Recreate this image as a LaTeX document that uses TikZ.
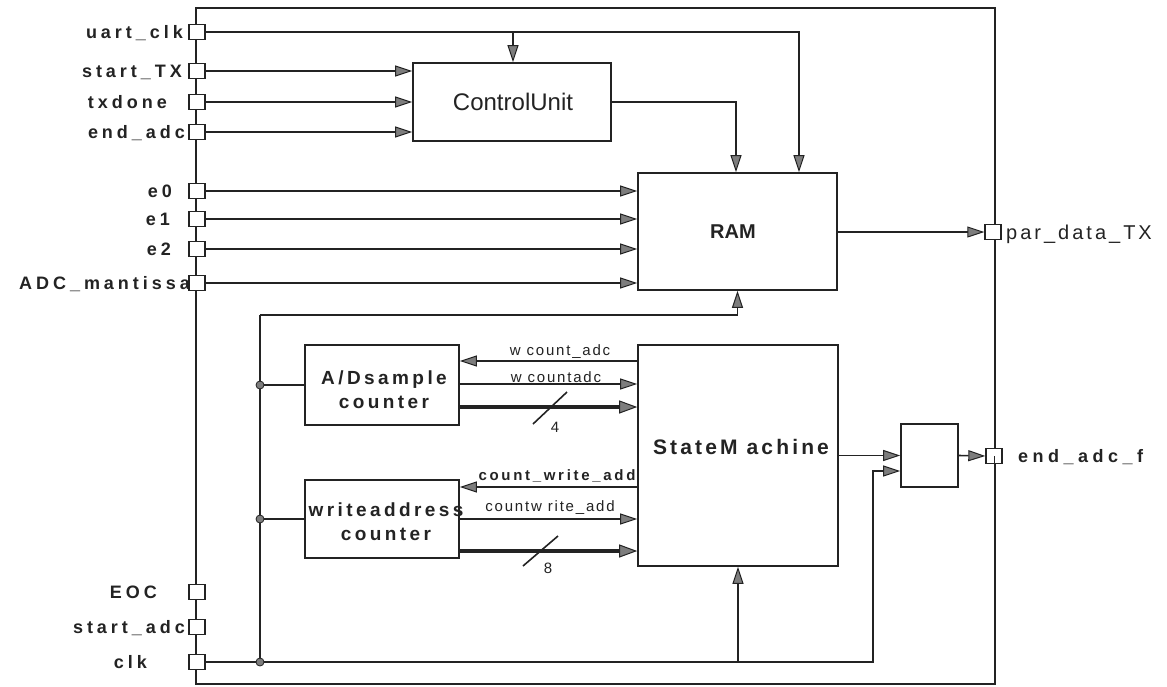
\documentclass[tikz,border=0pt]{standalone}
\usepackage{fontspec}
\setmainfont{Liberation Sans}
\newfontfamily\fA[LetterSpace=22]{Liberation Sans}
\newfontfamily\fB[LetterSpace=15]{Liberation Sans}
\newfontfamily\fC[LetterSpace=12]{Liberation Sans}
\newfontfamily\fD[LetterSpace=25]{Liberation Sans}
\newfontfamily\fE[LetterSpace=18]{Liberation Sans}
\usetikzlibrary{arrows.meta}
\newcommand\fsz[2]{\fontsize{#1}{#2}\selectfont}
\definecolor{lc}{RGB}{35,35,35}
\definecolor{af}{RGB}{125,125,125}
\begin{document}
\begin{tikzpicture}[x=1pt,y=-1pt,
  ln/.style={draw=lc, line width=1.6pt},
  arr/.style={ln, -{Triangle[length=17pt,width=11pt,fill=af,line width=1pt]}},
  bus/.style={draw=lc, line width=3.2pt, -{Triangle[length=18pt,width=13pt,fill=af,line width=1pt]}},
  port/.style={rectangle, draw=lc, fill=white, line width=1.4pt, minimum width=16pt, minimum height=15pt, inner sep=0pt},
  box/.style={rectangle, draw=lc, line width=1.6pt, inner sep=0pt},
  lbl/.style={font=\fA\bfseries\fsz{18}{20}, text=lc, inner sep=0pt, anchor=base east},
  dot/.style={circle, draw=lc, fill=af, line width=0.8pt, inner sep=0pt, minimum size=8pt},
  sig/.style={font=\fC\fsz{15}{17}, text=lc, inner sep=0pt},
  sigb/.style={font=\fE\bfseries\fsz{15}{17}, text=lc, inner sep=0pt},
  btxt/.style={font=\fE\bfseries\fsz{19}{24}, text=lc, align=center, inner sep=0pt}
]
\useasboundingbox (0,0) rectangle (1167,686);
\fill[white] (0,0) rectangle (1167,686);

% outer frame
\node[box, minimum width=799pt, minimum height=676pt] (frame) at (595.5,346) {};

% blocks
\node[box, minimum width=198pt, minimum height=78pt] (cu) at (512,102) {};
\node[font=\fsz{24}{26}, text=lc, inner sep=0pt] (cut) at (513,102) {ControlUnit};
\node[box, minimum width=199pt, minimum height=117pt] (ram) at (737.5,231.5) {};
\node[font=\bfseries\fsz{20}{22}, text=lc, inner sep=0pt] (ramt) at (733,232) {RAM};
\node[box, minimum width=154pt, minimum height=80pt] (ad) at (382,385) {};
\node[btxt] (adt) at (384,390) {A/Dsample\\counter};
\node[box, minimum width=154pt, minimum height=78pt] (wr) at (382,519) {};
\node[btxt] (wrt) at (386,522) {writeaddress\\counter};
\node[box, minimum width=200pt, minimum height=221pt] (sm) at (738,455.5) {};
\node[font=\fB\bfseries\fsz{21}{23}, text=lc, inner sep=0pt] (smt) at (741,447) {StateM achine};
\node[box, minimum width=57pt, minimum height=63pt] (sb) at (929.5,455.5) {};

% helper coordinates
\coordinate (cu1) at (799,32);
\coordinate (cu2) at (513,32);
\coordinate (cc) at (736,102);
\coordinate (jtop) at (260,315);
\coordinate (jad) at (260,385);
\coordinate (jwr) at (260,519);
\coordinate (jclk) at (260,662);
\coordinate (cr) at (873,471);
\coordinate (csm) at (738,662);
\coordinate (y1) at (0,361);
\coordinate (y2) at (0,384);
\coordinate (y3) at (0,407);
\coordinate (y4) at (0,487);
\coordinate (y5) at (0,519);
\coordinate (y6) at (0,551);

% ports left
\node[port] (puart) at (197,32) {};
\node[port] (pstx) at (197,71) {};
\node[port] (ptxd) at (197,102) {};
\node[port] (pend) at (197,132) {};
\node[port] (pe0) at (197,191) {};
\node[port] (pe1) at (197,219) {};
\node[port] (pe2) at (197,249) {};
\node[port] (padc) at (197,283) {};
\node[port] (peoc) at (197,592) {};
\node[port] (psadc) at (197,627) {};
\node[port] (pclk) at (197,662) {};
% ports right
\node[port] (ppar) at (993,232) {};
\node[port] (peaf) at (994,456) {};
\draw[ln, line width=1pt] (peaf.center) -- (peaf.south);

% port labels
\node[lbl] (luart) at (183,38.5) {uart\_clk};
\node[lbl] (lstx) at (182,77.5) {start\_TX};
\node[lbl] (ltxd) at (167,108.5) {txdone};
\node[lbl] (lend) at (185,138.5) {end\_adc};
\node[lbl] (le0) at (172,197.5) {e0};
\node[lbl] (le1) at (170,225.5) {e1};
\node[lbl] (le2) at (171,255.5) {e2};
\node[lbl] (ladc) at (190,289.5) {ADC\_mantissa};
\node[lbl] (leoc) at (157,598.5) {EOC};
\node[lbl] (lsadc) at (185,633.5) {start\_adc};
\node[lbl] (lclk) at (147,668.5) {clk};
\node[font=\fB\fsz{20}{22}, text=lc, inner sep=0pt, anchor=base west] (lpar) at (1006,239) {par\_data\_TX};
\node[font=\fD\bfseries\fsz{18}{20}, text=lc, inner sep=0pt, anchor=base west] (leaf) at (1018,462.5) {end\_adc\_f};

% top connections
\draw[arr] (puart.east) -| (cu1 |- ram.north);
\draw[arr] (cu2) -- (cu2 |- cu.north);
\draw[arr] (cu.east) -| (cc |- ram.north);
\draw[arr] (pstx.east) -- (pstx.east -| cu.west);
\draw[arr] (ptxd.east) -- (ptxd.east -| cu.west);
\draw[arr] (pend.east) -- (pend.east -| cu.west);
\draw[arr] (pe0.east) -- (pe0.east -| ram.west);
\draw[arr] (pe1.east) -- (pe1.east -| ram.west);
\draw[arr] (pe2.east) -- (pe2.east -| ram.west);
\draw[arr] (padc.east) -- (padc.east -| ram.west);
\draw[arr] (ram.east |- ppar.west) -- (ppar.west);

% inner loop and clock
\draw[ln] (jclk) -- (jtop);
\draw[arr] (jtop) -| (ram.south);
\draw[ln] (jad) -- (ad.west);
\draw[ln] (jwr) -- (wr.west);
\draw[arr] (pclk.east) -| (cr) -- (cr -| sb.west);
\draw[arr] (csm) -- (sm.south);

% A/D counter signals
\draw[arr] (sm.west |- y1) -- (ad.east |- y1);
\draw[arr] (ad.east |- y2) -- (sm.west |- y2);
\draw[bus] (ad.east |- y3) -- (sm.west |- y3);
\node[sig] (s1) at (560,352) {w count\_adc};
\node[sig] (s2) at (556,377) {w countadc};
\draw[ln] (533,424) -- (567,392);
\node[sig] (s3) at (555,427) {4};

% write address counter signals
\draw[arr] (sm.west |- y4) -- (wr.east |- y4);
\draw[arr] (wr.east |- y5) -- (sm.west |- y5);
\draw[bus] (wr.east |- y6) -- (sm.west |- y6);
\node[sigb] (s4) at (557,476) {count\_write\_add};
\node[sig] (s5) at (550,508) {countw rite\_add};
\draw[ln] (523,566) -- (558,536);
\node[sig] (s6) at (548,568) {8};

% state machine to output box
\draw[arr] (sm.east |- sb.west) -- (sb.west);
\draw[arr] (sb.east) -- (peaf.west);

% junction dots
\node[dot] (dad) at (jad) {};
\node[dot] (dwr) at (jwr) {};
\node[dot] (dclk) at (jclk) {};
\end{tikzpicture}
\end{document}
